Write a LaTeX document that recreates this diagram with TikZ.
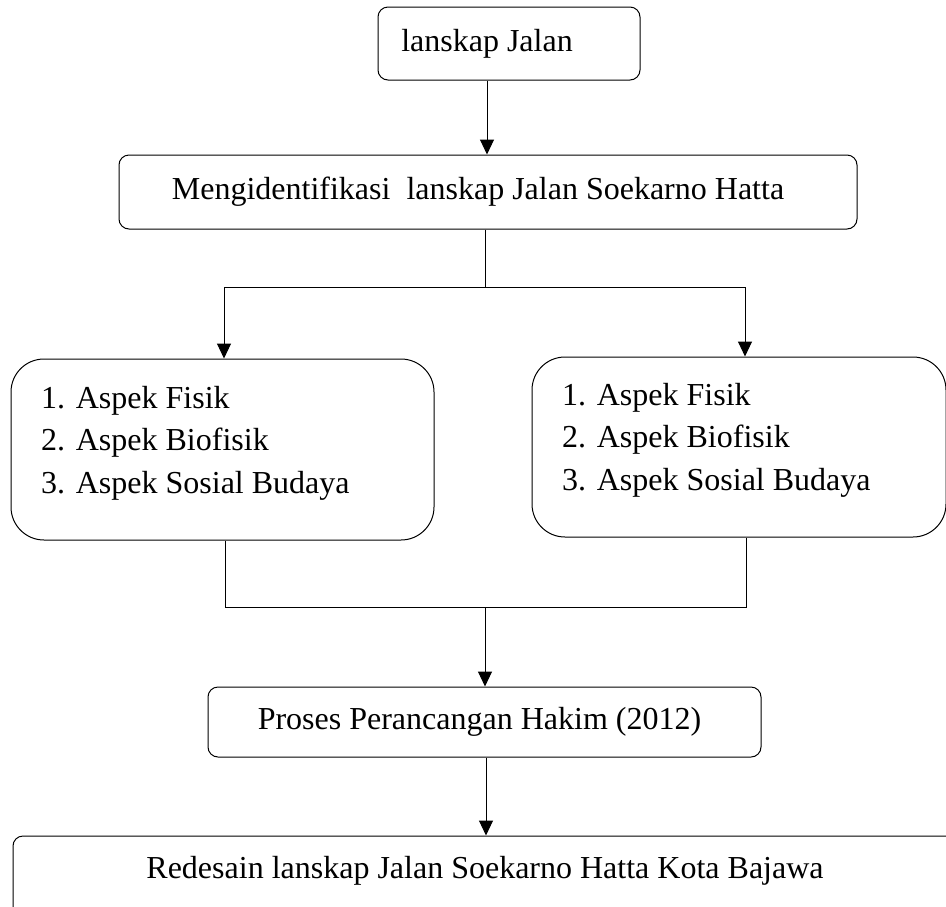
\documentclass[tikz,border=0pt]{standalone}
\usepackage{fontspec}
\setmainfont{Liberation Serif}
\usetikzlibrary{arrows.meta}
\tikzset{
  box/.style={draw, rounded corners=10pt, line width=1pt, inner sep=0pt,
    font=\fontsize{32}{42}\selectfont},
  bigbox/.style={draw, rounded corners=33pt, line width=1pt, inner sep=0pt},
  conn/.style={line width=1pt},
  arr/.style={conn, -{Triangle[width=14pt,length=15pt]}},
  lbl/.style={inner sep=0pt, font=\fontsize{32}{42.5}\selectfont}
}
\begin{document}
\begin{tikzpicture}[x=1pt,y=-1pt]
\useasboundingbox (0,0) rectangle (946,906);
% boxes
\node[box, minimum width=262pt, minimum height=73pt] (b1) at (509,43.5) {lanskap Jalan\hspace*{44pt}};
\node[box, minimum width=738pt, minimum height=74pt] (b2) at (488,192) {Mengidentifikasi\ \ lanskap Jalan Soekarno Hatta\hspace*{20pt}};
\node[bigbox, minimum width=423pt, minimum height=181pt] (b3) at (222.5,449.5) {};
\node[lbl, anchor=base west, align=left] (t3) at (41,493) {1. Aspek Fisik\\2. Aspek Biofisik\\3. Aspek Sosial Budaya};
\node[bigbox, minimum width=414pt, minimum height=180pt] (b4) at (739,447) {};
\node[lbl, anchor=base west, align=left] (t4) at (562,490) {1. Aspek Fisik\\2. Aspek Biofisik\\3. Aspek Sosial Budaya};
\node[box, minimum width=553pt, minimum height=70pt] (b5) at (484.5,722) {Proses Perancangan Hakim (2012)\hspace*{10pt}};
\node[box, minimum width=952pt, minimum height=89pt] (b6) at (489,880.5) {};
\node[lbl, anchor=base] (t6) at (485,878) {Redesain lanskap Jalan Soekarno Hatta Kota Bajawa};
% junction coordinates
\coordinate (c1) at (487,0);
\coordinate (j1) at (485,287);
\coordinate (jl) at (224,287);
\coordinate (jr) at (745,287);
\coordinate (kl) at (225,607);
\coordinate (kr) at (746,607);
\coordinate (km) at (485,607);
\coordinate (c5) at (486,0);
% connectors
\draw[arr] (b1.south -| c1) -- (b2.north -| c1);
\draw[conn] (b2.south -| j1) -- (j1);
\draw[conn] (jl) -- (jr);
\draw[arr] (jl) -- (jl |- b3.north);
\draw[arr] (jr) -- (jr |- b4.north);
\draw[conn] (kl |- b3.south) -- (kl) -- (kr) -- (kr |- b4.south);
\draw[arr] (km) -- (km |- b5.north);
\draw[arr] (b5.south -| c5) -- (b6.north -| c5);
\end{tikzpicture}
\end{document}
